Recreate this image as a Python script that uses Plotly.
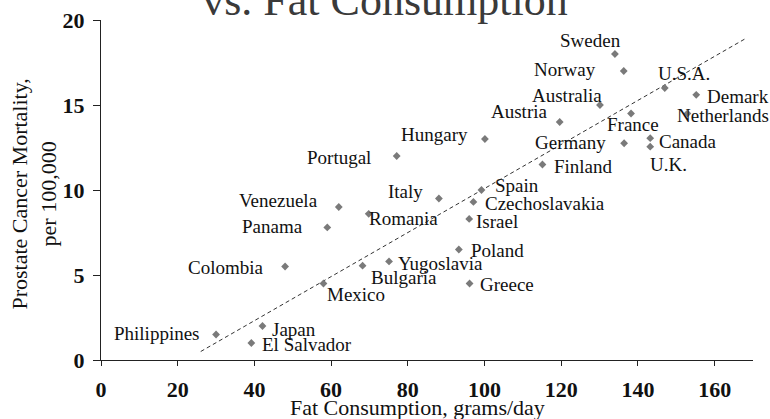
import plotly.graph_objects as go

# ---- data ----
countries = ["Philippines", "Japan", "El Salvador", "Colombia", "Mexico", "Bulgaria",
             "Yugoslavia", "Panama", "Venezuela", "Romania", "Portugal", "Italy",
             "Poland", "Greece", "Israel", "Czechoslavakia", "Spain", "Hungary",
             "Finland", "Austria", "Australia", "Sweden", "Norway", "Germany",
             "France", "U.S.A.", "Canada", "U.K.", "Netherlands", "Demark"]
fat_consumption = [30.0, 42.1, 39.2, 48.0, 58.0, 68.2,
                   75.1, 59.0, 62.0, 69.8, 77.1, 88.1,
                   93.3, 96.1, 96.0, 97.1, 99.2, 100.1,
                   115.1, 119.6, 130.1, 134.0, 136.3, 136.4,
                   138.2, 147.0, 143.2, 143.2, 152.9, 155.2]
mortality = [1.5, 2.0, 1.0, 5.5, 4.5, 5.55,
             5.8, 7.8, 9.0, 8.6, 12.0, 9.5,
             6.5, 4.5, 8.3, 9.3, 10.0, 13.0,
             11.5, 14.0, 15.0, 18.0, 17.0, 12.75,
             14.5, 16.0, 13.05, 12.55, 14.5, 15.6]
trend_x = [26.0, 168.0]
trend_y = [0.5, 18.9]
x_ticks = [0, 20, 40, 60, 80, 100, 120, 140, 160]
y_ticks = [0, 5, 10, 15, 20]

# ---- label placement (style only): anchor, x shift px, y shift px ----
label_style = {
    "Philippines": ("right", -14, 1), "Japan": ("left", 8, -3),
    "El Salvador": ("left", 9, -1), "Colombia": ("right", -19, -1),
    "Mexico": ("left", 2, -11), "Bulgaria": ("left", 6, -12),
    "Yugoslavia": ("left", 7, -2), "Panama": ("right", -22, 1),
    "Venezuela": ("right", -19, 7), "Romania": ("left", -2, -5),
    "Portugal": ("right", -24, -1), "Italy": ("right", -14, 7),
    "Poland": ("left", 10, -1), "Greece": ("left", 8, -1),
    "Israel": ("left", 5, -3), "Czechoslavakia": ("left", 10, -2),
    "Spain": ("left", 12, 5), "Hungary": ("right", -15, 5),
    "Finland": ("left", 10, -2), "Austria": ("right", -10, 11),
    "Australia": ("right", 4, 10), "Sweden": ("right", 8, 14),
    "Norway": ("right", -26, 2), "Germany": ("right", -16, 1),
    "France": ("center", 2, -11), "U.S.A.": ("left", -9, 15),
    "Canada": ("left", 7, -3), "U.K.": ("left", -2, -18),
    "Netherlands": ("left", -12, -2), "Demark": ("left", 9, -2),
}

SERIF = "Liberation Serif, Times New Roman, serif"

fig = go.Figure()
fig.add_trace(go.Scatter(
    x=trend_x, y=trend_y, mode="lines",
    line=dict(color="#333333", width=1, dash="4px,3px"),
    hoverinfo="skip", showlegend=False))
fig.add_trace(go.Scatter(
    x=fat_consumption, y=mortality, mode="markers",
    marker=dict(symbol="diamond", size=6, color="#7a7a7a"),
    text=countries, showlegend=False))

annotations = []
for c, xv, yv in zip(countries, fat_consumption, mortality):
    anc, dx, dy = label_style[c]
    annotations.append(dict(
        x=xv, y=yv, xref="x", yref="y", text=c, showarrow=False,
        xanchor=anc, yanchor="middle", xshift=dx, yshift=dy,
        font=dict(family=SERIF, size=19, color="#111111")))

annotations.append(dict(
    x=0.485, y=-0.14, xref="paper", yref="paper",
    text="Fat Consumption, grams/day", showarrow=False,
    xanchor="center", yanchor="middle",
    font=dict(family=SERIF, size=22, color="#111111")))
annotations.append(dict(
    x=-0.102, y=0.488, xref="paper", yref="paper",
    text="Prostate Cancer Mortality,<br>per 100,000", showarrow=False,
    textangle=-90, xanchor="center", yanchor="middle",
    font=dict(family=SERIF, size=22, color="#111111")))

fig.update_layout(
    template="none",
    width=770, height=419,
    margin=dict(l=101, r=17, t=20, b=59, autoexpand=False),
    paper_bgcolor="white", plot_bgcolor="white",
    title=dict(text="vs. Fat Consumption", x=0.5, xanchor="center",
               xref="container", yref="container", y=0.965, yanchor="bottom",
               automargin=False,
               font=dict(family=SERIF, size=44, color="#3a3a3a")),
    annotations=annotations,
)
fig.update_xaxes(
    range=[0, 170], tickvals=x_ticks, ticktext=[str(v) for v in x_ticks],
    showline=True, linecolor="#222222", linewidth=1,
    ticks="outside", ticklen=5, tickcolor="#222222", tickwidth=1,
    showgrid=False, zeroline=False, ticklabelstandoff=5,
    ticklabeloverflow="allow", automargin=False,
    tickfont=dict(family=SERIF, size=22, color="#111111", weight="bold"))
fig.update_yaxes(
    range=[0, 20], tickvals=y_ticks, ticktext=[str(v) for v in y_ticks],
    showline=True, linecolor="#222222", linewidth=1,
    ticks="outside", ticklen=7, tickcolor="#222222", tickwidth=1,
    showgrid=False, zeroline=False, ticklabelstandoff=4,
    ticklabeloverflow="allow", automargin=False,
    tickfont=dict(family=SERIF, size=22, color="#111111", weight="bold"))

fig.write_html(
    "out.html",
    config={"displayModeBar": False},
    post_script="document.body.style.margin='0';document.body.style.overflow='hidden';")
